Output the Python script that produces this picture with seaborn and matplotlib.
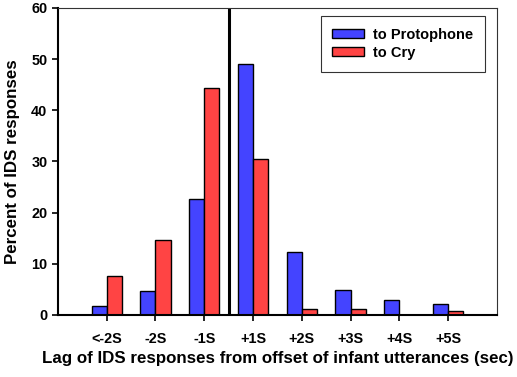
import pandas as pd
import numpy as np
import matplotlib.pyplot as plt
import seaborn as sns

# Values
lags = ['<-2S', '-2S', '-1S', '+1S', '+2S', '+3S', '+4S', '+5S']
protophone = [1.7, 4.6, 22.7, 49.0, 12.4, 4.9, 2.9, 2.1]
cry = [7.6, 14.6, 44.3, 30.5, 1.2, 1.2, 0.0, 0.8]

df = pd.DataFrame({
    'lag': lags * 2,
    'percent': protophone + cry,
    'group': ['to Protophone'] * len(lags) + ['to Cry'] * len(lags),
})

sns.set_style('ticks')
plt.rcParams['font.family'] = ['Liberation Sans', 'DejaVu Sans']
plt.rcParams['font.weight'] = 'bold'
for key in ['text.color', 'axes.labelcolor', 'xtick.color', 'ytick.color', 'axes.edgecolor']:
    plt.rcParams[key] = 'black'

fig = plt.figure(figsize=(5.17, 3.77), dpi=100)
ax = fig.add_axes([0.112, 0.1645, 0.849, 0.8145])

sns.barplot(data=df, x='lag', y='percent', hue='group', order=lags,
            palette={'to Protophone': '#4444ff', 'to Cry': '#ff4444'},
            width=0.62, edgecolor='black', linewidth=1.0, saturation=1, ax=ax)

# line separating before / after offset
ax.axvline(2.5, color='black', lw=2.2)

ax.set_xlim(-1, 8)
ax.set_ylim(0, 60)
ax.set_yticks(range(0, 61, 10))
ax.set_xlabel('Lag of IDS responses from offset of infant utterances (sec)',
              fontsize=12.2, fontweight='bold', labelpad=4)
ax.set_ylabel('Percent of IDS responses', fontsize=12.2, fontweight='bold', labelpad=8)
ax.tick_params(axis='both', labelsize=10.4, width=1.2, length=4, direction='out')
ax.tick_params(axis='x', pad=8)
for lab in ax.get_xticklabels() + ax.get_yticklabels():
    lab.set_fontweight('bold')

for side in ['left', 'bottom']:
    ax.spines[side].set_linewidth(1.5)
for side in ['top', 'right']:
    ax.spines[side].set_visible(True)
    ax.spines[side].set_linewidth(0.8)
    ax.spines[side].set_color('#333333')

leg = ax.legend(loc='upper right', bbox_to_anchor=(0.973, 0.974), borderaxespad=0,
                fontsize=10.5, frameon=True, fancybox=False, edgecolor='black',
                handlelength=2.2, handleheight=0.55, handletextpad=0.6,
                borderpad=0.8, labelspacing=0.3)
leg.get_frame().set_linewidth(0.8)
for t in leg.get_texts():
    t.set_fontweight('bold')

fig.savefig('out.png', dpi=100)
